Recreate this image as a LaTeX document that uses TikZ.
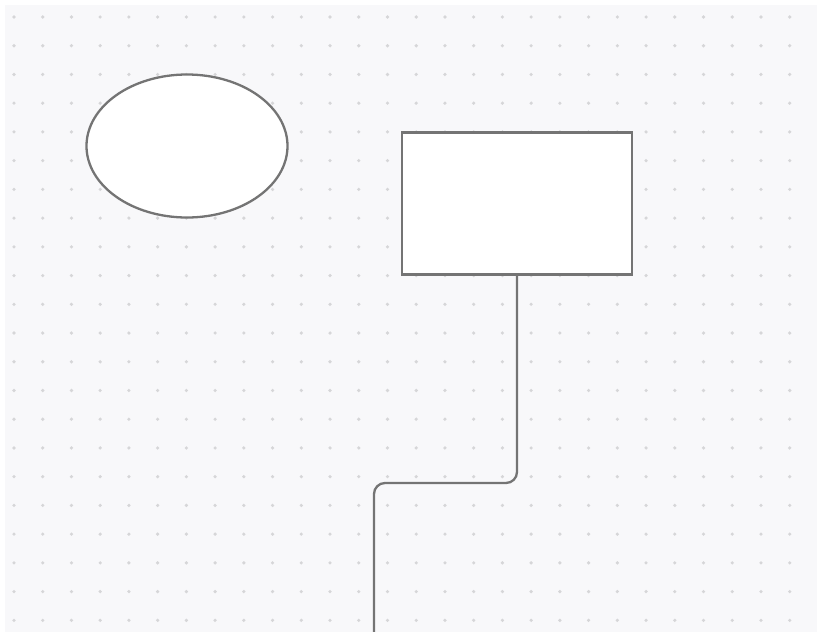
\documentclass[tikz,border=0pt]{standalone}
\usetikzlibrary{shapes.geometric}
\definecolor{panelbg}{HTML}{F8F8FA}
\definecolor{dotc}{HTML}{D6D6D8}
\definecolor{strokec}{HTML}{747474}
\tikzset{
  shapeline/.style={draw=strokec, line width=2.3pt, fill=white, inner sep=0pt},
  ovalnode/.style={shapeline, ellipse, minimum width=201pt, minimum height=143pt},
  boxnode/.style={shapeline, rectangle, minimum width=230pt, minimum height=142pt},
  conn/.style={draw=strokec, line width=2.3pt, rounded corners=11pt},
  griddot/.style={fill=dotc}
}
\begin{document}
\begin{tikzpicture}[x=1pt,y=-1pt]
\useasboundingbox (0,0) rectangle (817,632);
\fill[white] (0,0) rectangle (817,632);
\fill[panelbg] (5,5) rectangle (817,632);
\foreach \i in {0,...,27}{
  \foreach \j in {0,...,21}{
    \fill[griddot] ({14+28.73*\i},{17+28.73*\j}) circle (1.8pt);
  }
}
\node[ovalnode] (oval) at (187,146) {};
\node[boxnode] (box) at (517,203.5) {};
\coordinate (bend1) at (517,483);
\coordinate (bend2) at (374,483);
\coordinate (tail) at (374,634);
\draw[conn] (box.south) -- (bend1) -- (bend2) -- (tail);
\end{tikzpicture}
\end{document}
